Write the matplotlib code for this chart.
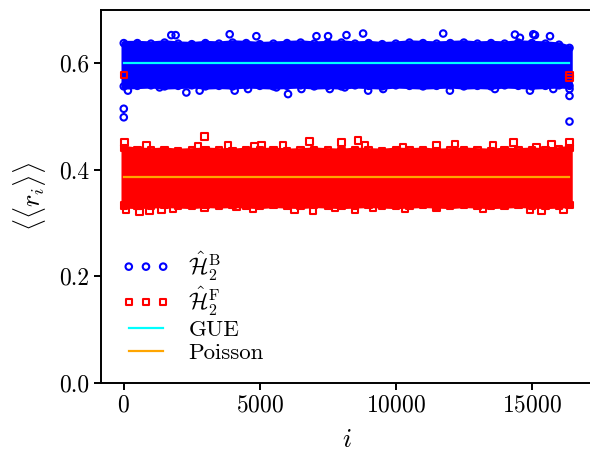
import numpy as np
import matplotlib
matplotlib.use("Agg")
import matplotlib.pyplot as plt
from matplotlib.legend_handler import HandlerPathCollection

plt.rcParams['font.family'] = 'serif'
plt.rcParams['font.serif'] = ['cmr10']
plt.rcParams['mathtext.fontset'] = 'cm'
plt.rcParams['axes.formatter.use_mathtext'] = True

N = 16384
# band envelope (marker centres) sampled every 500 indices
bin_x = [0, 500, 1000, 1500, 2000, 2500, 3000, 3500, 4000, 4500, 5000, 5500,
         6000, 6500, 7000, 7500, 8000, 8500, 9000, 9500, 10000, 10500, 11000,
         11500, 12000, 12500, 13000, 13500, 14000, 14500, 15000, 15500, 16000, 16383]
blue_hi = [0.637, 0.637, 0.636, 0.638, 0.636, 0.635, 0.637, 0.636, 0.638, 0.637,
           0.635, 0.636, 0.637, 0.638, 0.636, 0.637, 0.638, 0.636, 0.637, 0.635,
           0.636, 0.638, 0.637, 0.636, 0.637, 0.638, 0.636, 0.637, 0.636, 0.638,
           0.637, 0.636, 0.634, 0.628]
blue_lo = [0.556, 0.557, 0.558, 0.556, 0.557, 0.558, 0.556, 0.557, 0.556, 0.558,
           0.557, 0.556, 0.557, 0.558, 0.556, 0.557, 0.556, 0.558, 0.557, 0.556,
           0.558, 0.557, 0.556, 0.557, 0.558, 0.556, 0.557, 0.556, 0.558, 0.557,
           0.556, 0.557, 0.558, 0.557]
red_hi = [0.440, 0.437, 0.436, 0.437, 0.435, 0.436, 0.437, 0.436, 0.435, 0.437,
          0.436, 0.437, 0.435, 0.436, 0.437, 0.436, 0.435, 0.437, 0.436, 0.435,
          0.437, 0.436, 0.437, 0.435, 0.436, 0.437, 0.436, 0.435, 0.437, 0.436,
          0.437, 0.436, 0.438, 0.440]
red_lo = [0.333, 0.332, 0.333, 0.334, 0.333, 0.332, 0.334, 0.333, 0.334, 0.333,
          0.332, 0.334, 0.333, 0.332, 0.334, 0.333, 0.332, 0.333, 0.334, 0.333,
          0.332, 0.333, 0.334, 0.333, 0.332, 0.334, 0.333, 0.332, 0.333, 0.334,
          0.333, 0.332, 0.333, 0.334]

# isolated points outside the dense band
blue_out_x = [0, 0, 152, 1317, 1747, 1906, 2300, 2789, 3893, 4077, 4567, 4874,
              5611, 6038, 6531, 7083, 7510, 7572, 8124, 8186, 8797, 8982, 9534,
              11741, 11987, 13643, 14378, 14562, 14930, 15052, 15114, 15666,
              15788, 16383, 16383, 16383]
blue_out_y = [0.514, 0.498, 0.548, 0.554, 0.652, 0.652, 0.5445, 0.548, 0.6536,
              0.548, 0.551, 0.650, 0.554, 0.5415, 0.551, 0.650, 0.650, 0.551,
              0.554, 0.652, 0.655, 0.548, 0.551, 0.655, 0.548, 0.551, 0.653,
              0.647, 0.548, 0.6536, 0.652, 0.650, 0.551, 0.551, 0.538, 0.490]
red_out_x = [0, 29, 91, 581, 828, 949, 1379, 1808, 2727, 2973, 2973, 3831, 4139,
             4751, 4812, 5059, 5855, 6285, 6836, 6959, 7757, 8002, 8491, 8613,
             8859, 9166, 10270, 10331, 11497, 11497, 12171, 13213, 13580, 14316,
             14930, 15175, 15360, 15727, 16155, 16376, 16383, 16383]
red_out_y = [0.577, 0.451, 0.3245, 0.3202, 0.4449, 0.322, 0.3245, 0.3265, 0.443,
             0.4623, 0.3285, 0.4449, 0.331, 0.3265, 0.443, 0.4449, 0.4449, 0.3245,
             0.4529, 0.3234, 0.3285, 0.451, 0.3245, 0.4542, 0.4449, 0.3285,
             0.4417, 0.3265, 0.4449, 0.3285, 0.448, 0.3265, 0.4449, 0.451, 0.3245,
             0.4417, 0.3234, 0.4468, 0.3245, 0.451, 0.577, 0.572]

gue_mean = 0.5996
poisson_mean = 0.3863

fig = plt.figure(figsize=(5.9, 4.53), dpi=100)
ax = fig.add_axes([0.172, 0.1545, 0.831, 0.8245])

blue = '#0000ff'
red = '#ff0000'
s_mark = 22
lw_mark = 1.5

ax.fill_between(bin_x, blue_lo, blue_hi, facecolor=blue, edgecolor=blue,
                linewidth=4.0, zorder=1)
ax.scatter(bin_x + bin_x, blue_hi + blue_lo, s=s_mark, marker='o',
           facecolors='none', edgecolors=blue, linewidths=lw_mark, zorder=1)
sc_b = ax.scatter(blue_out_x, blue_out_y, s=s_mark, marker='o', facecolors='none',
                  edgecolors=blue, linewidths=lw_mark, zorder=1,
                  label=r'$\hat{\mathcal{H}}_2^{\mathrm{B}}$')

ax.fill_between(bin_x, red_lo, red_hi, facecolor=red, edgecolor=red,
                linewidth=4.0, zorder=2)
ax.scatter(bin_x + bin_x, red_hi + red_lo, s=s_mark, marker='s',
           facecolors='none', edgecolors=red, linewidths=lw_mark, zorder=2)
sc_r = ax.scatter(red_out_x, red_out_y, s=s_mark, marker='s', facecolors='none',
                  edgecolors=red, linewidths=lw_mark, zorder=2,
                  label=r'$\hat{\mathcal{H}}_2^{\mathrm{F}}$')

ax.plot([0, N - 1], [gue_mean, gue_mean], color='cyan', lw=1.6, zorder=3,
        label='GUE')
ax.plot([0, N - 1], [poisson_mean, poisson_mean], color='orange', lw=1.6,
        zorder=3, label='Poisson')

ax.set_xlim(-0.05 * (N - 1), 1.05 * (N - 1))
ax.set_ylim(0, 0.7)
ax.set_xticks([0, 5000, 10000, 15000])
ax.set_yticks([0.0, 0.2, 0.4, 0.6])
ax.set_yticklabels(['0.0', '0.2', '0.4', '0.6'])
ax.tick_params(labelsize=17, width=1.4, length=5)
for sp in ax.spines.values():
    sp.set_linewidth(1.4)

ax.set_xlabel(r'$i$', fontsize=19, labelpad=8)
ax.set_ylabel(r'$\langle\langle r_i \rangle\rangle$', fontsize=19, labelpad=8)

hm = {sc_b: HandlerPathCollection(marker_pad=0.0),
      sc_r: HandlerPathCollection(marker_pad=0.0)}
ax.legend(loc='lower left', bbox_to_anchor=(0.037, 0.03), frameon=False,
          scatterpoints=3, scatteryoffsets=[0.5], fontsize=16.5, handler_map=hm,
          handlelength=1.5, handletextpad=1.1, labelspacing=0.1,
          borderaxespad=0.0)

fig.savefig('out.png', dpi=100)
